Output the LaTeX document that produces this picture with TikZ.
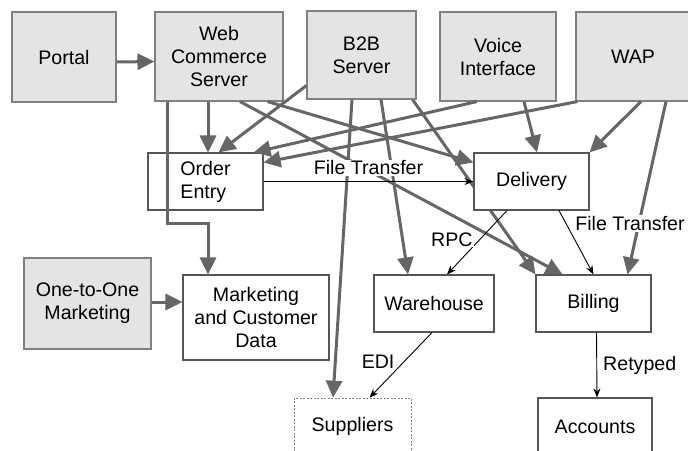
\documentclass[tikz,border=0pt]{standalone}
\usepackage{fontspec}
\setmainfont{Liberation Sans}
\usetikzlibrary{arrows.meta,backgrounds}
\definecolor{srcfill}{HTML}{E4E4E4}
\definecolor{edgegray}{HTML}{666666}
\definecolor{boxline}{HTML}{555555}

\begin{document}
\begin{tikzpicture}[x=1pt, y=-1pt, font=\fontsize{19.6}{23}\selectfont,
  box/.style={draw=boxline, line width=1.1pt, fill=white, align=center, inner sep=0pt},
  src/.style={box, fill=srcfill, draw=gray},
  heavy/.style={draw=edgegray, line width=3pt, -{Triangle[length=17pt,width=16pt]}},
  light/.style={line width=0.9pt, -{Stealth[length=9pt,width=7pt]}},
  lbl/.style={fill=white, inner sep=1pt}]
\useasboundingbox (0,0) rectangle (688,450);
\clip (0,0) rectangle (688,450);
% front ends
\node[src, minimum width=104pt, minimum height=90pt] (portal) at (64,57) {Portal};
\node[src, minimum width=128pt, minimum height=89pt] (web) at (219,56.5) {Web\\Commerce\\Server};
\node[src, minimum width=109pt, minimum height=88pt] (b2b) at (361.5,55) {B2B\\Server};
\node[src, minimum width=116pt, minimum height=89pt] (voice) at (498,56.5) {Voice\\Interface};
\node[src, minimum width=114pt, minimum height=89pt] (wap) at (633,56.5) {WAP};
\node[src, minimum width=127pt, minimum height=91pt] (oto) at (87.5,303.5) {One-to-One\\Marketing};
% back ends
\node[box, align=left, minimum width=115pt, minimum height=57pt] (order) at (205.5,181.5) {Order\\Entry};
\node[box, minimum width=115pt, minimum height=57pt] (delivery) at (531.5,181.5) {Delivery};
\node[box, minimum width=146pt, minimum height=85pt] (mkt) at (256,317.5) {Marketing\\and Customer\\Data};
\node[box, minimum width=120pt, minimum height=57pt] (wh) at (434,303.5) {Warehouse};
\node[box, minimum width=115pt, minimum height=57pt] (bill) at (593.5,303.5) {Billing};
\node[box, draw=gray, line width=0.6pt, dash pattern=on 2pt off 1.5pt, minimum width=117pt, minimum height=57pt] (sup) at (352.5,426.5) {Suppliers};
\node[box, minimum width=114pt, minimum height=57pt] (acc) at (595,426.5) {Accounts};
% direct feeds
\begin{pgfonlayer}{background}
\draw[heavy] ([xshift=-4pt]b2b.south east) -- (bill.north west);
\end{pgfonlayer}
\draw[heavy] ([yshift=-5pt]portal.east) -- ([yshift=-5pt]web.west);
\draw[heavy] ([xshift=-11pt]web.south) -- ([xshift=2.5pt]order.north);
\draw[heavy] ([xshift=13pt]web.south west) -- ++(0,122) -| ([xshift=-48pt]mkt.north);
\draw[heavy] ([xshift=-16pt]web.south east) -- ([yshift=-10pt]delivery.north west);
\draw[heavy] ([xshift=21pt]web.south) -- ([xshift=-31pt]bill.north);
\draw[heavy] ([yshift=14pt]b2b.south west) -- ([xshift=13pt]order.north);
\draw[heavy] ([xshift=-9.5pt]b2b.south) -- ([xshift=-19.5pt]sup.north);
\draw[heavy] ([xshift=19.5pt]b2b.south) -- ([xshift=-26pt]wh.north);
\draw[heavy] ([xshift=-21pt]voice.south) -- ([xshift=-10pt]order.north east);
\draw[heavy] ([xshift=26pt]voice.south) -- ([xshift=5.5pt]delivery.north);
\draw[heavy] ([xshift=2pt]wap.south west) -- ([yshift=-10pt]order.north east);
\draw[heavy] ([xshift=8pt]wap.south) -- (delivery.north east);
\draw[heavy] ([xshift=33pt]wap.south) -- ([xshift=-24pt]bill.north east);
\draw[heavy] ([yshift=15.5pt]oto.east |- mkt.west) -- ([yshift=15.5pt]mkt.west);
% integrations
\draw[light] (order.east) -- node[lbl, above=5pt] {File Transfer} (delivery.west);
\draw[light] ([xshift=-24.5pt]delivery.south) -- node[lbl, left=6pt, pos=0.45] {RPC} ([xshift=13pt]wh.north);
\draw[light] ([xshift=27.5pt]delivery.south) -- node[lbl, right=8pt, pos=0.2] {File Transfer} (bill.north);
\draw[light] ([xshift=-2pt]wh.south) -- node[lbl, left=8pt, pos=0.45] {EDI} ([xshift=17pt]sup.north);
\draw[light] ([xshift=3pt]bill.south) -- node[lbl, right=5pt] {Retyped} ([xshift=2pt]acc.north);
\end{tikzpicture}
\end{document}
